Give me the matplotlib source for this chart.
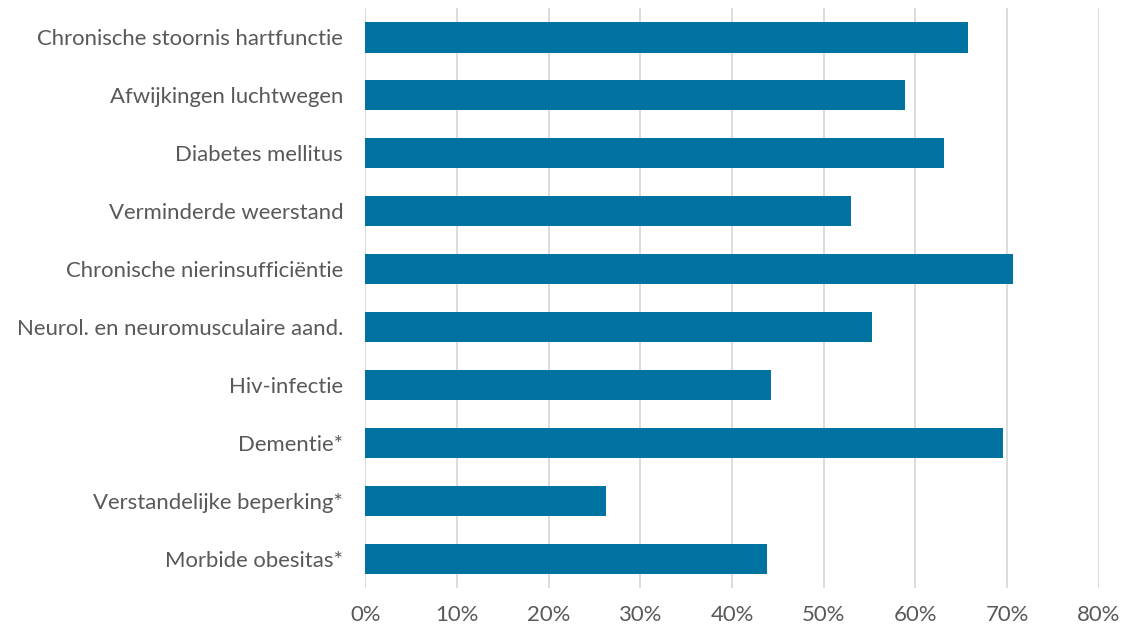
import matplotlib.pyplot as plt
from matplotlib.ticker import PercentFormatter

plt.rcParams["font.family"] = ["Lato", "DejaVu Sans"]

categories = [
    "Chronische stoornis hartfunctie",
    "Afwijkingen luchtwegen",
    "Diabetes mellitus",
    "Verminderde weerstand",
    "Chronische nierinsufficiëntie",
    "Neurol. en neuromusculaire aand.",
    "Hiv-infectie",
    "Dementie*",
    "Verstandelijke beperking*",
    "Morbide obesitas*",
]
values = [65.7, 58.9, 63.1, 53.0, 70.7, 55.3, 44.3, 69.6, 26.2, 43.8]
xticks = [0, 10, 20, 30, 40, 50, 60, 70, 80]

text_col = "#595959"
bar_col = "#0073A1"

fig = plt.figure(figsize=(11.21, 6.32), dpi=100)
ax = fig.add_axes([0.326, 0.0696, 0.654, 0.917])

ypos = list(range(len(categories)))
ax.barh(ypos, values, height=0.52, color=bar_col, zorder=3)
ax.set_yticks(ypos)
ax.set_yticklabels(categories)
ax.set_ylim(len(categories) - 0.5, -0.5)
ax.set_xlim(0, 80)
ax.set_xticks(xticks)
ax.xaxis.set_major_formatter(PercentFormatter(decimals=0))
ax.grid(axis="x", color="#D9D9D9", linewidth=1.3, zorder=0)
for s in ax.spines.values():
    s.set_visible(False)
ax.tick_params(axis="both", length=0, colors=text_col, labelsize=15.9)
ax.tick_params(axis="y", pad=16)
ax.tick_params(axis="x", pad=12)

fig.savefig("out.png", dpi=100)
